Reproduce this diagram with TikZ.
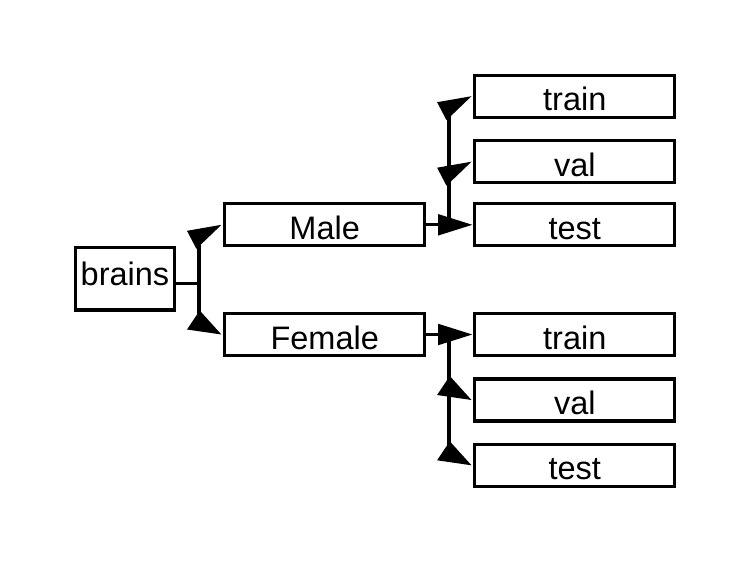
\documentclass[tikz,border=0pt]{standalone}
\usepackage{fontspec}
\setmainfont{Liberation Sans}
\usetikzlibrary{calc,arrows.meta}
\newcommand\tipup[1]{\fill ([xshift=-3.3pt]#1.west) -- ++(-34.4,6) -- ++(9.4,18) -- cycle;}
\newcommand\tipdown[1]{\fill ([xshift=-3.3pt]#1.west) -- ++(-21.7,-24) -- ++(-12.7,19) -- cycle;}
\begin{document}
\begin{tikzpicture}[x=1pt,y=-1pt,
  box/.style={draw, line width=3.2pt, inner sep=0pt, outer sep=0pt, minimum width=200pt,
    text height=35.5pt, text depth=6.5pt, font=\fontsize{32.5}{38}\selectfont},
  conn/.style={line width=3.2pt},
  arr/.style={conn, shorten >=2.3pt, -{Triangle[length=34.4pt,width=20.6pt]}}]
\useasboundingbox (0,0) rectangle (750,563);
\node[box, minimum width=98.6pt, text height=37.3pt, text depth=25pt] (brains) at (125,278.9) {brains};
\node[box] (Male) at (324.7,224.8) {Male};
\node[box] (Female) at (324.7,334.5) {Female};
\node[box] (train1) at (574.8,96.2) {train};
\node[box] (val1) at (574.8,161.7) {val};
\node[box] (test1) at (574.8,224.8) {test};
\node[box] (train2) at (574.8,334.5) {train};
\node[box] (val2) at (574.8,400) {val};
\node[box] (test2) at (574.8,465.3) {test};
\coordinate (j0) at (199,0);
\coordinate (j1) at (449,0);
\coordinate (b0) at ([yshift=-4.4pt]brains.east);
\draw[conn] (b0) -- (b0 -| j0);
\draw[conn] ($(j0|-Male.west)+(0,20)$) -- ($(j0|-Female.west)+(0,-16)$);
\tipup{Male}
\tipdown{Female}
\draw[arr] (Male.east) -- (test1.west);
\draw[arr] (Female.east) -- (train2.west);
\draw[conn] (j1|-Male.east) -- ($(j1|-train1.west)+(0,18)$);
\draw[conn] (j1|-Female.east) -- ($(j1|-test2.west)+(0,-12)$);
\tipup{train1}
\tipup{val1}
\tipdown{val2}
\tipdown{test2}
\end{tikzpicture}
\end{document}
